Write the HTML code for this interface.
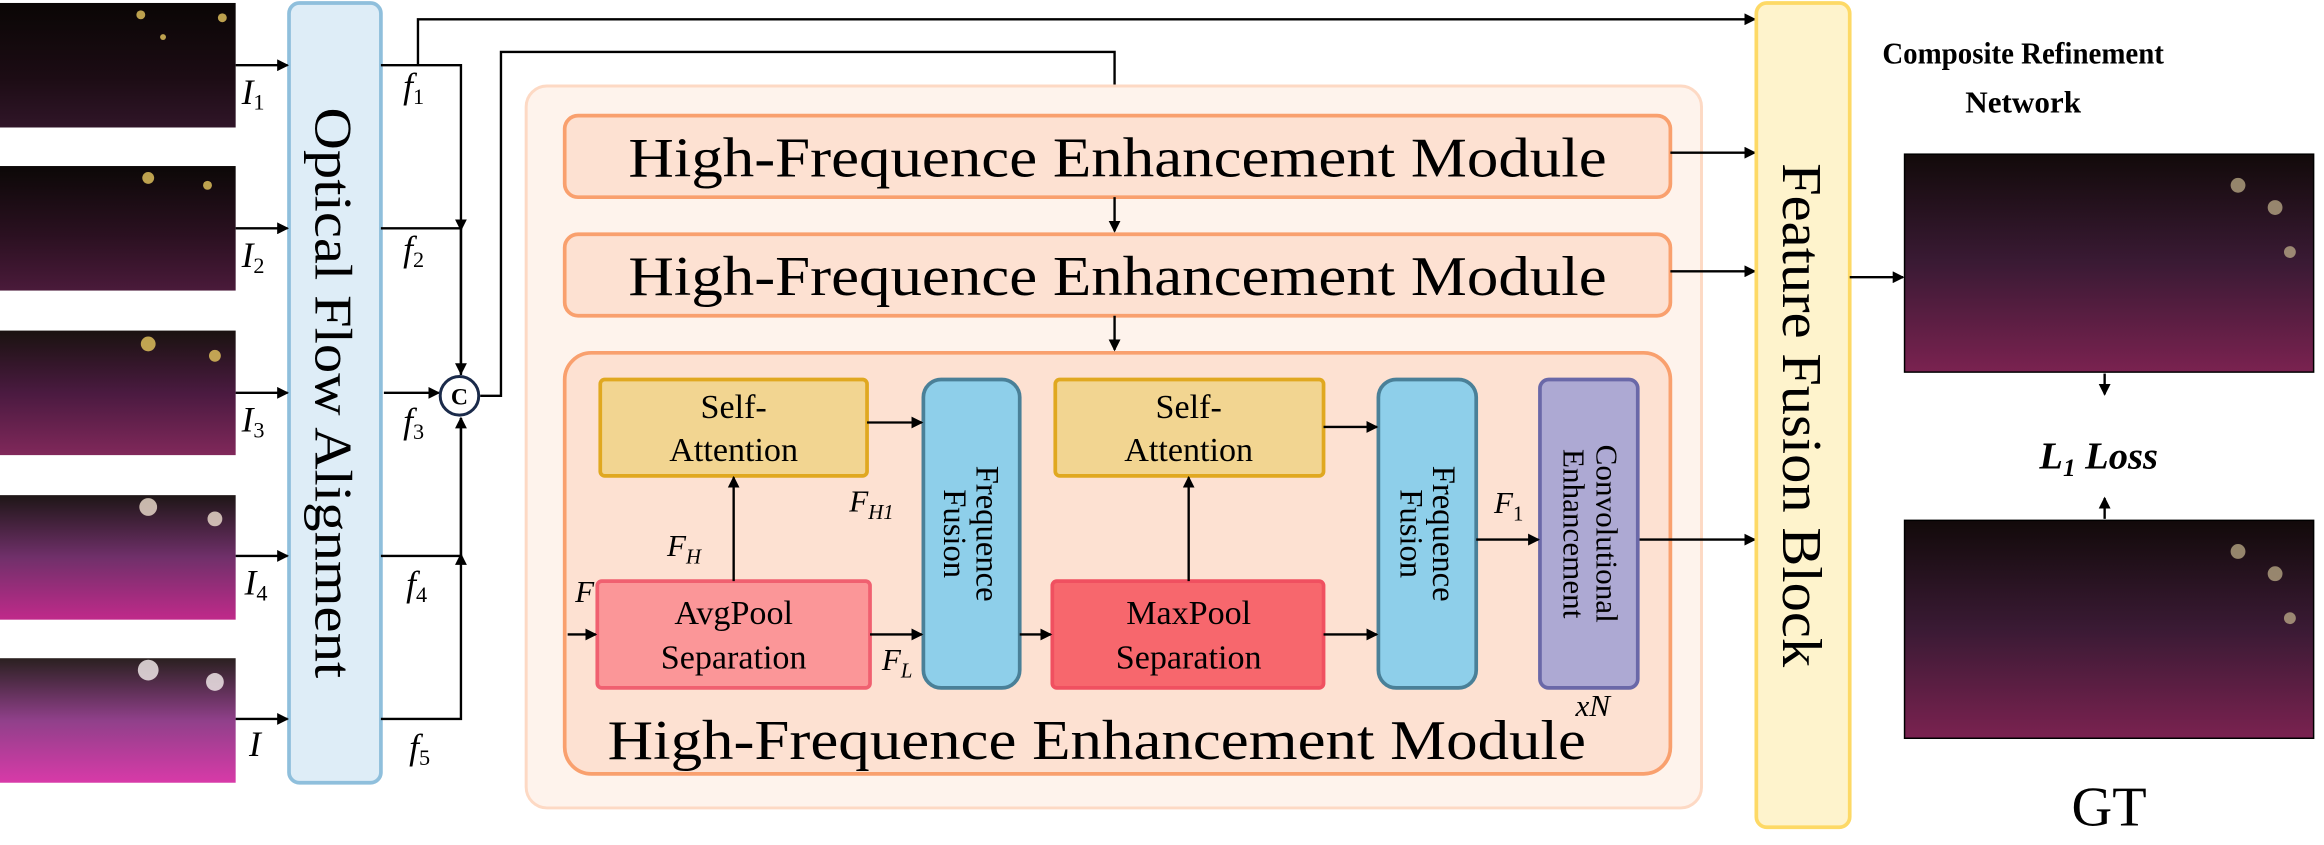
<!DOCTYPE html>
<html><head><meta charset="utf-8"><style>html,body{margin:0;padding:0;background:#fff}svg{display:block}svg, svg text, svg tspan{font-family:"Liberation Serif","Times New Roman","DejaVu Serif",serif !important}</style></head>
<body>
<svg width="2324" height="845" viewBox="0 0 1568 570" preserveAspectRatio="none" xmlns="http://www.w3.org/2000/svg" style="font-family:'Liberation Serif','Times New Roman','DejaVu Serif',serif">
<defs>
<marker id="a" markerWidth="8" markerHeight="8" refX="7" refY="4" orient="auto" markerUnits="userSpaceOnUse"><path d="M0,0 L8,4 L0,8 Z" fill="#000"/></marker>
<linearGradient id="g1" x1="0" y1="0" x2="0" y2="1"><stop offset="0" stop-color="#0a0605"/><stop offset="0.6" stop-color="#1c0c14"/><stop offset="1" stop-color="#301528"/></linearGradient>
<linearGradient id="g2" x1="0" y1="0" x2="0" y2="1"><stop offset="0" stop-color="#0c0807"/><stop offset="0.55" stop-color="#2a1020"/><stop offset="1" stop-color="#4a1a3a"/></linearGradient>
<linearGradient id="g3" x1="0" y1="0" x2="0" y2="1"><stop offset="0" stop-color="#1a1210"/><stop offset="0.5" stop-color="#4a1a40"/><stop offset="1" stop-color="#80285a"/></linearGradient>
<linearGradient id="g4" x1="0" y1="0" x2="0" y2="1"><stop offset="0" stop-color="#1e1616"/><stop offset="0.5" stop-color="#70306a"/><stop offset="1" stop-color="#c02a8a"/></linearGradient>
<linearGradient id="g5" x1="0" y1="0" x2="0" y2="1"><stop offset="0" stop-color="#2a2020"/><stop offset="0.5" stop-color="#90408a"/><stop offset="1" stop-color="#d83aa8"/></linearGradient>
<linearGradient id="gr" x1="0" y1="0" x2="0" y2="1"><stop offset="0" stop-color="#120a0a"/><stop offset="0.5" stop-color="#3a1a34"/><stop offset="1" stop-color="#7a2250"/></linearGradient>
</defs>

<rect x="0" y="2" width="159" height="84" fill="url(#g1)"/>
<rect x="0" y="112" width="159" height="84" fill="url(#g2)"/>
<rect x="0" y="223" width="159" height="84" fill="url(#g3)"/>
<rect x="0" y="334" width="159" height="84" fill="url(#g4)"/>
<rect x="0" y="444" width="159" height="84" fill="url(#g5)"/>
<g fill="#e8c860" opacity="0.8">
<circle cx="95" cy="10" r="3"/><circle cx="110" cy="25" r="2"/><circle cx="150" cy="12" r="3"/>
<circle cx="100" cy="120" r="4"/><circle cx="140" cy="125" r="3"/>
<circle cx="100" cy="232" r="5"/><circle cx="145" cy="240" r="4"/>
<circle cx="100" cy="342" r="6" fill="#f0e0d0"/><circle cx="145" cy="350" r="5" fill="#f0e0d0"/>
<circle cx="100" cy="452" r="7" fill="#f8f0f0"/><circle cx="145" cy="460" r="6" fill="#f8f0f0"/>
</g>

<rect x="195" y="2" width="62" height="526" rx="7" fill="#deedf7" stroke="#8fbfdc" stroke-width="2.5"/>
<text transform="translate(213,265) rotate(90)" text-anchor="middle" font-size="36" textLength="385" lengthAdjust="spacingAndGlyphs">Optical Flow Alignment</text>

<g stroke="#000" stroke-width="1.6" fill="none">
<line x1="159" y1="44" x2="194" y2="44" marker-end="url(#a)"/>
<line x1="159" y1="154" x2="194" y2="154" marker-end="url(#a)"/>
<line x1="159" y1="265" x2="194" y2="265" marker-end="url(#a)"/>
<line x1="159" y1="375" x2="194" y2="375" marker-end="url(#a)"/>
<line x1="159" y1="485" x2="194" y2="485" marker-end="url(#a)"/>
<polyline points="257,44 311,44 311,155" marker-end="url(#a)"/>
<polyline points="257,154 311,154 311,253"/>
<line x1="311" y1="154" x2="311" y2="252" marker-end="url(#a)"/>
<line x1="259" y1="265" x2="296" y2="265" marker-end="url(#a)"/>
<polyline points="257,485 311,485 311,374" marker-end="url(#a)"/>
<polyline points="257,375 311,375 311,282" />
<line x1="311" y1="375" x2="311" y2="282" marker-end="url(#a)"/>
<polyline points="282,44 282,13 1184,13" marker-end="url(#a)"/>
<polyline points="324,267 338,267 338,35 752,35 752,74" marker-end="url(#a)"/>
</g>
<circle cx="310" cy="267" r="13" fill="#fff" stroke="#1a2a4a" stroke-width="2"/>
<text x="310" y="273" text-anchor="middle" font-size="16" font-weight="bold">C</text>

<g font-size="24" font-style="italic">
<text x="163" y="70">I<tspan font-size="15" font-style="normal" dy="4">1</tspan></text>
<text x="163" y="180">I<tspan font-size="15" font-style="normal" dy="4">2</tspan></text>
<text x="163" y="291">I<tspan font-size="15" font-style="normal" dy="4">3</tspan></text>
<text x="165" y="401">I<tspan font-size="15" font-style="normal" dy="4">4</tspan></text>
<text x="168" y="510">I</text>
<text x="272" y="66">f<tspan font-size="15" font-style="normal" dy="4">1</tspan></text>
<text x="272" y="176">f<tspan font-size="15" font-style="normal" dy="4">2</tspan></text>
<text x="272" y="292">f<tspan font-size="15" font-style="normal" dy="4">3</tspan></text>
<text x="274" y="402">f<tspan font-size="15" font-style="normal" dy="4">4</tspan></text>
<text x="276" y="512">f<tspan font-size="15" font-style="normal" dy="4">5</tspan></text>
</g>

<rect x="355" y="58" width="793" height="487" rx="14" fill="#fef3ec" stroke="#fdd9c4" stroke-width="2"/>
<rect x="381" y="78" width="746" height="55" rx="9" fill="#fde1d2" stroke="#f9a06e" stroke-width="2.5"/>
<text x="754" y="119" text-anchor="middle" font-size="38" textLength="660" lengthAdjust="spacingAndGlyphs">High-Frequence Enhancement Module</text>
<rect x="381" y="158" width="746" height="55" rx="9" fill="#fde1d2" stroke="#f9a06e" stroke-width="2.5"/>
<text x="754" y="199" text-anchor="middle" font-size="38" textLength="660" lengthAdjust="spacingAndGlyphs">High-Frequence Enhancement Module</text>
<rect x="381" y="238" width="746" height="284" rx="18" fill="#fde1d2" stroke="#f9a06e" stroke-width="2.5"/>
<text x="740" y="512" text-anchor="middle" font-size="38" textLength="660" lengthAdjust="spacingAndGlyphs">High-Frequence Enhancement Module</text>

<g stroke="#000" stroke-width="1.6" fill="none">
<line x1="752" y1="133" x2="752" y2="156" marker-end="url(#a)"/>
<line x1="752" y1="213" x2="752" y2="236" marker-end="url(#a)"/>
<line x1="1127" y1="103" x2="1184" y2="103" marker-end="url(#a)"/>
<line x1="1127" y1="183" x2="1184" y2="183" marker-end="url(#a)"/>
<line x1="1105" y1="364" x2="1184" y2="364" marker-end="url(#a)"/>
</g>

<rect x="405" y="256" width="180" height="65" rx="3" fill="#f2d591" stroke="#e0a820" stroke-width="2.5"/>
<text x="495" y="282" text-anchor="middle" font-size="23">Self-</text>
<text x="495" y="311" text-anchor="middle" font-size="23">Attention</text>
<rect x="712" y="256" width="181" height="65" rx="3" fill="#f2d591" stroke="#e0a820" stroke-width="2.5"/>
<text x="802" y="282" text-anchor="middle" font-size="23">Self-</text>
<text x="802" y="311" text-anchor="middle" font-size="23">Attention</text>
<rect x="403" y="392" width="184" height="72" rx="3" fill="#fb9698" stroke="#f06070" stroke-width="2.5"/>
<text x="495" y="421" text-anchor="middle" font-size="23">AvgPool</text>
<text x="495" y="451" text-anchor="middle" font-size="23">Separation</text>
<rect x="710" y="392" width="183" height="72" rx="3" fill="#f7676d" stroke="#f05060" stroke-width="2.5"/>
<text x="802" y="421" text-anchor="middle" font-size="23">MaxPool</text>
<text x="802" y="451" text-anchor="middle" font-size="23">Separation</text>
<rect x="623" y="256" width="65" height="208" rx="12" fill="#8ecfea" stroke="#4a8098" stroke-width="2.5"/>
<text transform="translate(659,360) rotate(90)" text-anchor="middle" font-size="22">Frequence</text>
<text transform="translate(637,360) rotate(90)" text-anchor="middle" font-size="22">Fusion</text>
<rect x="930" y="256" width="66" height="208" rx="12" fill="#8ecfea" stroke="#4a8098" stroke-width="2.5"/>
<text transform="translate(967,360) rotate(90)" text-anchor="middle" font-size="22">Frequence</text>
<text transform="translate(945,360) rotate(90)" text-anchor="middle" font-size="22">Fusion</text>
<rect x="1039" y="256" width="66" height="208" rx="6" fill="#ada9d3" stroke="#6a68a8" stroke-width="2.5"/>
<text transform="translate(1077,360) rotate(90)" text-anchor="middle" font-size="21">Convolutional</text>
<text transform="translate(1055,360) rotate(90)" text-anchor="middle" font-size="21">Enhancement</text>

<g stroke="#000" stroke-width="1.6" fill="none">
<line x1="383" y1="428" x2="402" y2="428" marker-end="url(#a)"/>
<line x1="587" y1="428" x2="622" y2="428" marker-end="url(#a)"/>
<line x1="688" y1="428" x2="709" y2="428" marker-end="url(#a)"/>
<line x1="893" y1="428" x2="929" y2="428" marker-end="url(#a)"/>
<line x1="585" y1="285" x2="622" y2="285" marker-end="url(#a)"/>
<line x1="893" y1="288" x2="929" y2="288" marker-end="url(#a)"/>
<line x1="495" y1="392" x2="495" y2="322" marker-end="url(#a)"/>
<line x1="802" y1="392" x2="802" y2="322" marker-end="url(#a)"/>
<line x1="996" y1="364" x2="1038" y2="364" marker-end="url(#a)"/>
</g>
<g font-size="21" font-style="italic">
<text x="388" y="406">F</text>
<text x="450" y="375">F<tspan font-size="14" dy="5">H</tspan></text>
<text x="573" y="345">F<tspan font-size="14" dy="5">H1</tspan></text>
<text x="595" y="452">F<tspan font-size="14" dy="5">L</tspan></text>
<text x="1008" y="346">F<tspan font-size="14" font-style="normal" dy="5">1</tspan></text>
<text x="1063" y="483">xN</text>
</g>

<rect x="1185" y="2" width="63" height="556" rx="7" fill="#fef3cc" stroke="#fdd966" stroke-width="2.5"/>
<text transform="translate(1203,280) rotate(90)" text-anchor="middle" font-size="38" textLength="340" lengthAdjust="spacingAndGlyphs">Feature Fusion Block</text>
<line x1="1248" y1="187" x2="1284" y2="187" stroke="#000" stroke-width="1.6" marker-end="url(#a)"/>

<text x="1365" y="43" text-anchor="middle" font-size="21" font-weight="bold" textLength="190" lengthAdjust="spacingAndGlyphs">Composite Refinement</text>
<text x="1365" y="76" text-anchor="middle" font-size="21" font-weight="bold">Network</text>

<rect x="1285" y="104" width="276" height="147" fill="url(#gr)" stroke="#000" stroke-width="1"/>
<rect x="1285" y="351" width="276" height="147" fill="url(#gr)" stroke="#000" stroke-width="1"/>
<g fill="#c8b890" opacity="0.7">
<circle cx="1510" cy="125" r="5"/><circle cx="1535" cy="140" r="5"/><circle cx="1545" cy="170" r="4"/>
<circle cx="1510" cy="372" r="5"/><circle cx="1535" cy="387" r="5"/><circle cx="1545" cy="417" r="4"/>
</g>
<g stroke="#000" stroke-width="1.6" fill="none">
<line x1="1420" y1="252" x2="1420" y2="266" marker-end="url(#a)"/>
<line x1="1420" y1="350" x2="1420" y2="336" marker-end="url(#a)"/>
</g>
<text x="1376" y="316" font-size="26" font-weight="bold" font-style="italic">L<tspan font-size="17" dy="5">1</tspan><tspan dy="-5"> Loss</tspan></text>
<text x="1423" y="557" text-anchor="middle" font-size="38">GT</text>
</svg>
</body></html>
